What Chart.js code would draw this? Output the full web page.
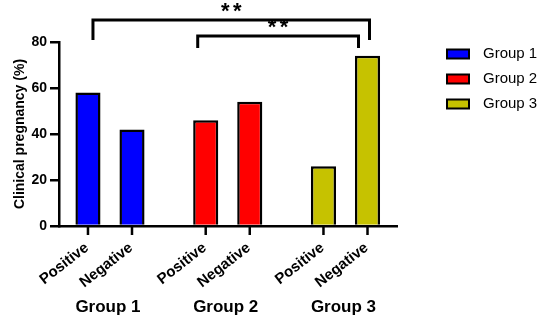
<!DOCTYPE html>
<html>
<head>
<meta charset="utf-8">
<script src="https://cdn.jsdelivr.net/npm/chart.js@4"></script>
<style>
  html, body { margin: 0; padding: 0; background: #fff; }
  #chart { display: block; }
</style>
</head>
<body>
<canvas id="chart" width="550" height="321"></canvas>
<script>
// data
const groups = ['Group 1', 'Group 2', 'Group 3'];
const groupColors = ['#0000ff', '#ff0000', '#c6c200'];
const barLabels = ['Positive', 'Negative'];
const positiveValues = [58, 46, 26];
const negativeValues = [42, 54, 74];
const yTicks = [0, 20, 40, 60, 80];
// significance brackets: [group, bar] pairs compared
const comparisons = [
    { from: [0, 0], to: [2, 1], text: '*' },
    { from: [1, 0], to: [2, 1], text: '*' }
];

const FONT = '"Liberation Sans", Arial, sans-serif';

const toPoints = (values) => values.map((v, i) => ({ x: i + 1, y: v }));

const extras = {
    id: 'extras',
    afterDraw(chart) {
        const ctx = chart.ctx;
        const area = chart.chartArea;
        const metas = [chart.getDatasetMeta(0), chart.getDatasetMeta(1)];
        const barX = (g, b) => metas[b].data[g].x;

        ctx.save();
        ctx.strokeStyle = '#000';
        ctx.fillStyle = '#000';

        // tick marks under each bar + rotated labels
        groups.forEach((g, gi) => {
            barLabels.forEach((lab, bi) => {
                const x = barX(gi, bi);
                ctx.lineWidth = 2.5;
                ctx.beginPath();
                ctx.moveTo(x, area.bottom);
                ctx.lineTo(x, area.bottom + 9);
                ctx.stroke();

                ctx.save();
                ctx.translate(x - 1, area.bottom + 20);
                ctx.rotate(-38 * Math.PI / 180);
                ctx.font = 'bold 15px ' + FONT;
                ctx.textAlign = 'right';
                ctx.textBaseline = 'middle';
                ctx.fillText(lab, 0, 0);
                ctx.restore();
            });
            // group label
            const cx = (barX(gi, 0) + barX(gi, 1)) / 2;
            ctx.font = 'bold 17px ' + FONT;
            ctx.textAlign = 'center';
            ctx.textBaseline = 'middle';
            ctx.fillText(g, cx - 2, 307);
        });

        // significance brackets (two stars each)
        const levels = [{ y: 20, drop: 20, dx1: 5, dx2: 2 }, { y: 36, drop: 12, dx1: -8, dx2: -9 }];
        comparisons.forEach((c, i) => {
            const L = levels[i];
            const x1 = barX(c.from[0], c.from[1]) + L.dx1;
            const x2 = barX(c.to[0], c.to[1]) + L.dx2;
            ctx.lineWidth = 3;
            ctx.beginPath();
            ctx.moveTo(x1, L.y + L.drop);
            ctx.lineTo(x1, L.y);
            ctx.lineTo(x2, L.y);
            ctx.lineTo(x2, L.y + L.drop);
            ctx.stroke();
            ctx.font = 'bold 22px ' + FONT;
            ctx.textAlign = 'center';
            ctx.textBaseline = 'alphabetic';
            const mx = (x1 + x2) / 2;
            ctx.fillText(c.text, mx - 6, L.y - 2);
            ctx.fillText(c.text, mx + 6, L.y - 2);
        });

        // legend
        groups.forEach((g, i) => {
            const y = 54 + i * 25;
            ctx.fillStyle = groupColors[i];
            ctx.fillRect(447, y - 4.5, 22, 9);
            ctx.lineWidth = 2;
            ctx.strokeRect(447, y - 4.5, 22, 9);
            ctx.fillStyle = '#000';
            ctx.font = '15px ' + FONT;
            ctx.textAlign = 'left';
            ctx.textBaseline = 'middle';
            ctx.fillText(g, 483, y);
        });
        ctx.restore();
    }
};

new Chart(document.getElementById('chart'), {
    type: 'bar',
    data: {
        datasets: [
            {
                label: barLabels[0],
                data: toPoints(positiveValues),
                backgroundColor: groupColors,
                borderColor: '#000',
                borderWidth: 2.5
            },
            {
                label: barLabels[1],
                data: toPoints(negativeValues),
                backgroundColor: groupColors,
                borderColor: '#000',
                borderWidth: 2.5
            }
        ]
    },
    options: {
        responsive: false,
        animation: false,
        layout: { padding: { left: 0, top: 42, right: 153, bottom: 0 } },
        datasets: { bar: { categoryPercentage: 0.748, barPercentage: 0.57 } },
        plugins: { legend: { display: false }, tooltip: { enabled: false } },
        scales: {
            x: {
                type: 'linear',
                min: 0.567,
                max: 3.4375,
                offset: false,
                afterBuildTicks: (s) => { s.ticks = groups.map((g, i) => ({ value: i + 1 })); },
                ticks: { display: false },
                grid: { display: false },
                border: { display: true, color: '#000', width: 2.5 },
                afterFit: (s) => { s.height = 95; }
            },
            y: {
                min: 0,
                max: 80,
                afterBuildTicks: (s) => { s.ticks = yTicks.map(v => ({ value: v })); },
                ticks: { color: '#000', padding: 3, font: { family: FONT, size: 14, weight: 'bold' } },
                grid: { drawOnChartArea: false, drawTicks: true, tickLength: 9, color: '#000', lineWidth: 2.5 },
                border: { display: true, color: '#000', width: 2.5 },
                title: {
                    display: true,
                    text: 'Clinical pregnancy (%)',
                    color: '#000',
                    padding: { top: 12, bottom: 0 },
                    font: { family: FONT, size: 14, weight: 'bold' }
                },
                afterFit: (s) => { s.width = 59; }
            }
        }
    },
    plugins: [extras]
});
</script>
</body>
</html>
